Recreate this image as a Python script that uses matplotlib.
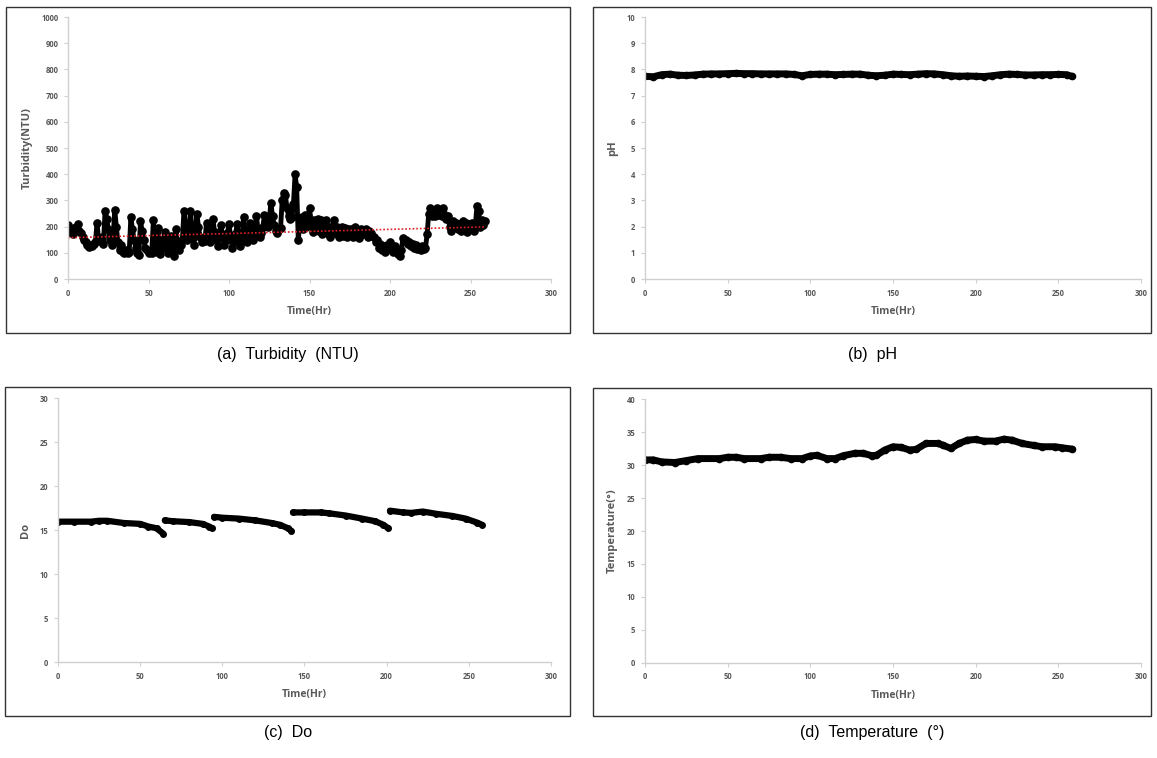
import numpy as np
import matplotlib.pyplot as plt
from matplotlib.patches import Rectangle

# Turbidity (NTU), one reading per hour from hour 0
turb_ntu = [
    205, 180, 190, 170, 195, 200, 210, 185, 175, 160,
    150, 140, 128, 122, 130, 125, 135, 140, 215, 150,
    145, 160, 135, 260, 230, 190, 150, 130, 155, 265,
    200, 140, 110, 130, 105, 100, 110, 100, 105, 235,
    190, 150, 120, 100, 92, 220, 185, 150, 120, 110,
    100, 105, 100, 225, 130, 105, 195, 95, 150, 120,
    178, 140, 100, 130, 165, 120, 88, 190, 140, 110,
    130, 150, 260, 200, 150, 175, 260, 190, 130, 165,
    250, 200, 160, 140, 150, 145, 215, 170, 140, 160,
    230, 180, 150, 125, 165, 205, 160, 130, 150, 175,
    210, 160, 120, 140, 170, 210, 160, 125, 150, 235,
    180, 140, 160, 215, 170, 150, 175, 240, 190, 160,
    175, 200, 245, 225, 200, 230, 290, 240, 205, 185,
    175, 190, 195, 300, 330, 320, 270, 240, 230, 235,
    285, 400, 350, 150, 210, 235, 190, 245, 200, 240,
    270, 210, 180, 225, 190, 230, 185, 225, 170, 220,
    225, 175, 200, 160, 195, 225, 175, 200, 160, 190,
    200, 165, 195, 160, 190, 170, 190, 160, 200, 170,
    185, 155, 190, 170, 185, 190, 160, 185, 175, 165,
    160, 140, 150, 120, 135, 110, 125, 105, 130, 115,
    140, 110, 105, 125, 115, 95, 88, 110, 155, 145,
    150, 135, 140, 125, 135, 120, 130, 115, 120, 110,
    125, 115, 120, 170, 250, 270, 240, 260, 240, 270,
    245, 265, 240, 270, 245, 230, 240, 200, 185, 220,
    200, 215, 190, 210, 185, 220, 195, 215, 180, 210,
    190, 215, 185, 210, 280, 260, 200, 225, 205, 220,
]

ph_hours = [0, 5, 10, 15, 20, 25, 30, 35, 40, 45, 50, 55, 60, 65, 70, 75,
            80, 85, 90, 95, 100, 105, 110, 115, 120, 125, 130, 135, 140,
            145, 150, 155, 160, 165, 170, 175, 180, 185, 190, 195, 200,
            205, 210, 215, 220, 225, 230, 235, 240, 245, 250, 255, 258]
ph_values = [7.74, 7.72, 7.80, 7.82, 7.78, 7.77, 7.79, 7.82, 7.83, 7.83,
             7.84, 7.85, 7.84, 7.84, 7.83, 7.83, 7.83, 7.83, 7.81, 7.76,
             7.81, 7.82, 7.82, 7.80, 7.81, 7.82, 7.82, 7.78, 7.76, 7.78,
             7.82, 7.81, 7.80, 7.82, 7.84, 7.83, 7.80, 7.76, 7.74, 7.75,
             7.74, 7.73, 7.76, 7.80, 7.82, 7.81, 7.79, 7.79, 7.80, 7.80,
             7.81, 7.80, 7.74]

# Dissolved oxygen, one list per run between refills
do_runs = [
    ([0, 10, 20, 25, 30, 40, 50, 55, 60, 64],
     [15.95, 15.95, 15.95, 16.05, 16.05, 15.8, 15.7, 15.4, 15.2, 14.6]),
    ([65, 70, 80, 88, 92, 94],
     [16.1, 16.0, 15.9, 15.7, 15.4, 15.2]),
    ([95, 100, 110, 120, 130, 135, 140, 142],
     [16.5, 16.4, 16.3, 16.1, 15.8, 15.6, 15.2, 14.9]),
    ([143, 150, 160, 165, 175, 185, 193, 198, 201],
     [17.0, 17.0, 17.0, 16.9, 16.65, 16.3, 16.0, 15.6, 15.2]),
    ([202, 210, 215, 222, 230, 240, 248, 255, 258],
     [17.2, 17.0, 16.95, 17.1, 16.85, 16.6, 16.3, 15.85, 15.6]),
]

temp_hours = [0, 5, 10, 18, 25, 32, 45, 50, 55, 60, 70, 75, 82, 88, 95, 100,
              104, 110, 115, 120, 127, 132, 137, 140, 145, 150, 155, 160,
              164, 170, 177, 180, 185, 190, 195, 200, 205, 212, 217, 222,
              228, 235, 240, 248, 252, 258]
temp_values = [30.8, 30.8, 30.5, 30.4, 30.7, 31.0, 31.0, 31.2, 31.2, 31.0,
               31.0, 31.2, 31.2, 31.0, 31.0, 31.4, 31.5, 31.0, 31.0, 31.45,
               31.8, 31.8, 31.45, 31.5, 32.3, 32.8, 32.7, 32.3, 32.4, 33.3,
               33.3, 33.05, 32.55, 33.3, 33.8, 33.9, 33.65, 33.65, 33.95,
               33.8, 33.3, 33.0, 32.8, 32.8, 32.65, 32.45]

captions = ["(a)  Turbidity  (NTU)", "(b)  pH", "(c)  Do", "(d)  Temperature  (°)"]

TICK_GRAY = "#595959"
AXIS_GRAY = "#d0d0d0"


def style_axes(ax, ymax, ystep, ylabel):
    ax.set_xlim(0, 300)
    ax.set_ylim(0, ymax)
    ax.set_xticks(range(0, 301, 50))
    ax.set_yticks(np.arange(0, ymax + ystep / 2, ystep))
    for side in ("top", "right"):
        ax.spines[side].set_visible(False)
    for side in ("left", "bottom"):
        ax.spines[side].set_color(AXIS_GRAY)
        ax.spines[side].set_linewidth(1.0)
    ax.tick_params(direction="out", length=3, width=0.8, color=AXIS_GRAY,
                   labelsize=5.5, labelcolor=TICK_GRAY, pad=4)
    for lbl in ax.get_xticklabels() + ax.get_yticklabels():
        lbl.set_fontweight("bold")
    ax.set_xlabel("Time(Hr)", fontsize=7.5, fontweight="bold", color=TICK_GRAY, labelpad=6)
    ax.set_ylabel(ylabel, fontsize=8, fontweight="bold", color=TICK_GRAY, labelpad=6)


def main():
    plt.rcParams["font.family"] = ["Open Sans", "DejaVu Sans"]
    fig = plt.figure(figsize=(11.57, 7.58), dpi=100)

    # panel frames (figure pixel coords: x0, y_top, x1, y_bottom)
    frames = [(6, 7, 570, 333), (593, 7, 1151, 333),
              (5, 387, 570, 716), (593, 388, 1151, 716)]
    W, H = 1157, 758
    for x0, yt, x1, yb in frames:
        fig.add_artist(Rectangle((x0 / W, 1 - yb / H), (x1 - x0) / W, (yb - yt) / H,
                                 transform=fig.transFigure, fill=False,
                                 edgecolor="#333333", linewidth=1.0))

    ax_a = fig.add_axes([0.0588, 0.6319, 0.4175, 0.3456])
    ax_b = fig.add_axes([0.5575, 0.6319, 0.4287, 0.3456])
    ax_c = fig.add_axes([0.0501, 0.1266, 0.4261, 0.3483])
    ax_d = fig.add_axes([0.5575, 0.1257, 0.4287, 0.3475])

    # Turbidity with linear trend line
    turb_hours = np.arange(len(turb_ntu))
    ax_a.plot(turb_hours, turb_ntu, color="black", lw=3.5, marker="o", ms=5.2,
              solid_capstyle="round", solid_joinstyle="round")
    slope, intercept = np.polyfit(turb_hours, turb_ntu, 1)
    trend_x = np.array([turb_hours[0], turb_hours[-1]])
    ax_a.plot(trend_x, slope * trend_x + intercept, color="#e02020", lw=1.2,
              linestyle=(0, (1, 1.2)))
    style_axes(ax_a, 1000, 100, "Turbidity(NTU)")

    # pH
    ax_b.plot(ph_hours, ph_values, color="black", lw=5, marker="o", ms=4.5,
              solid_capstyle="round")
    style_axes(ax_b, 10, 1, "pH")

    # Dissolved oxygen
    for hrs, vals in do_runs:
        ax_c.plot(hrs, vals, color="black", lw=4.5, marker="o", ms=4,
                  solid_capstyle="round")
    style_axes(ax_c, 30, 5, "Do")

    # Temperature
    ax_d.plot(temp_hours, temp_values, color="black", lw=5, marker="o", ms=4.5,
              solid_capstyle="round")
    style_axes(ax_d, 40, 5, "Temperature(°)")

    cap_pos = [(288, 354), (872, 354), (288, 733), (872, 733)]
    for (cx, cy), text in zip(cap_pos, captions):
        fig.text(cx / W, 1 - cy / H, text, ha="center", va="center",
                 fontsize=11.5, family="Liberation Sans", color="black")

    fig.savefig("out.png", dpi=100)


if __name__ == "__main__":
    main()
